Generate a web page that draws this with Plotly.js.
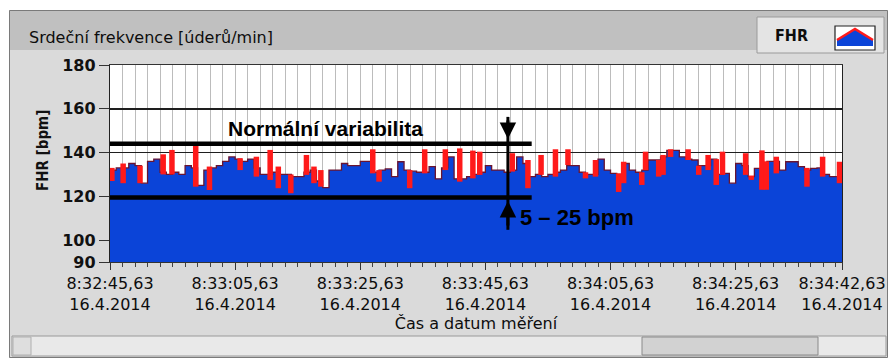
<!DOCTYPE html>
<html><head><meta charset="utf-8">
<script src="https://cdn.plot.ly/plotly-3.0.1.min.js"></script>
<style>html,body{margin:0;padding:0;background:#fff}#chart{width:888px;height:358px}</style>
</head><body><div id="chart"></div>
<script>
// ---- data (seconds from 8:32:45,63) ----
const seconds = [0,1,2,3,4,5,6,7,8,9,10,11,12,13,14,15,16,17,18,19,20,21,22,23,24,25,26,27,28,29,30,31,32,33,34,35,36,37,38,39,40,41,42,43,44,45,46,47,48,49,50,51,52,53,54,55,56,57,58,59,60,61,62,63,64,65,66,67,68,69,70,71,72,73,74,75,76,77,78,79,80,81,82,83,84,85,86,87,88,89,90,91,92,93,94,95,96,97,98,99,100,101,102,103,104,105,106,107,108,109,110,111,112,113,114,115,116,117];
const fhrBase = [132,133,133,135,134,126,136,137,131,130,131,130,134,133,125,132,133,134,136,138,137,136,137,133,130,130,131,130,130,129,129,131,132,127,124,132,132,135,134,134,136,136,131,132,132.5,129,135.8,132,131.5,131,131,133.6,128,133,138,128,128,129,130,131,134,132,132,131,132,138,135,129,130,129,130,131,132,134,134,131,130,130,137,132,130.5,130,135,132,131,132,136.6,136.6,138,141,141,138,137,136.6,134,134,137,130,130.5,126,135,134,129,132.8,131,136,136,132,135.8,135.8,133.6,132,132.8,133,130,129,129,128];
// short beat-to-beat excursions (red)
const spikeSec  = [0.3,2.1,4.8,8.5,9.9,13.7,15.9,20.8,23.4,25.6,26.9,28.9,31.4,32.6,33.7,42.0,43.0,47.9,50.3,53.6,55.9,58.0,59.1,64.3,66.8,68.9,71.2,73.2,76.0,77.6,81.3,82.1,85.0,85.6,87.7,88.4,89.6,92.4,94.1,95.6,96.9,97.9,101.6,102.5,104.2,104.9,106.5,111.4,113.9,116.6];
const spikeLow  = [127,126,126,130,130,124.4,122.9,132,129,127.5,123.7,121.4,129.8,126,124.4,130.5,126.7,123.7,130.5,132,126.7,128.2,129.8,131.3,123.7,129.8,129,134.3,128.2,129,122,126,125.2,132,129,129.8,138,136.6,129.8,132,125.2,129.8,129.8,127.5,123,123,130.5,124.4,129,126];
const spikeHigh = [133,135,134,139.2,141.2,143,133.6,137.4,138.1,141.2,133.6,130,138.9,133.6,132,141.5,132,132,141.5,141.5,141.9,140.9,140.4,139.7,136.6,138.9,141.5,141.5,131,136.6,130.5,135.8,131,140.4,136.6,138.9,141.5,141.5,134,138.9,137,140.4,139.7,129.5,141,136,138.1,133,138.1,135.8];
// axes
const xTickSeconds = [0,20,40,60,80,100,117];
const xTickTimes = ["8:32:45,63","8:33:05,63","8:33:25,63","8:33:45,63","8:34:05,63","8:34:25,63","8:34:42,63"];
const xTickDate = "16.4.2014";
const yTicks = [90,100,120,140,160,180];
// annotation of the normal variability band
const bandLimits = [119.5, 144];
const bandEndSec = 67.4;
const arrowSec = 63.6;

// ---- traces ----
const sx = [], sy = [];
spikeSec.forEach((t,i)=>{ sx.push(t,t,null); sy.push(spikeLow[i], spikeHigh[i], null); });

const traces = [
  {x: seconds, y: fhrBase, type:'scatter', mode:'lines', name:'FHR',
   line:{shape:'hv', color:'#6a1430', width:1.3}, fill:'tozeroy', fillcolor:'#0b44d8', hoverinfo:'skip'},
  {x: sx, y: sy, type:'scatter', mode:'lines', name:'FHR var',
   line:{color:'#ff1a1a', width:5.5}, hoverinfo:'skip', connectgaps:false}
];

// ---- chrome helpers (pixel -> paper) ----
const L=110, R=842, T=65, B=262;
const px = x => (x-L)/(R-L);
const py = y => (B-y)/(B-T);
function box(x0,y0,x1,y1,fill,line,lw){
  return {type:'rect', xref:'paper', yref:'paper', x0:px(x0), x1:px(x1), y0:py(y1), y1:py(y0),
    fillcolor:fill, line:{color:line||'rgba(0,0,0,0)', width:lw===undefined?1:lw}, layer:'below'};
}
const shapes = [
  box(0,0,888,10,'#ffffff',null,0),
  box(0,0,9,358,'#ffffff',null,0),
  box(9.5,10.5,887.5,357.5,'rgba(0,0,0,0)','#7a7a7a',1),
  box(10,11,887,50,'#c0c0c0',null,0),
  box(757,17,884,53,'#e4e4e4','#9a9a9a',1),
  box(835,26,875,50,'#ffffff','#222222',1.2),
  {type:'path', xref:'paper', yref:'paper', layer:'below', fillcolor:'#0b44d8', line:{width:0},
   path:'M'+px(837)+','+py(46)+' L'+px(837)+','+py(40)+' L'+px(855)+','+py(29)+' L'+px(873)+','+py(40)+' L'+px(873)+','+py(46)+' Z'},
  {type:'path', xref:'paper', yref:'paper', layer:'below', line:{color:'#ff1a1a', width:2.5},
   path:'M'+px(837)+','+py(40)+' L'+px(855)+','+py(29)+' L'+px(873)+','+py(40)},
  box(12,336,886,356,'#e9e9e9','#9a9a9a',1),
  box(13,337,31,355,'#dedede','#b0b0b0',1),
  box(642,337,818,355,'#d2d2d2','#8a8a8a',1),
  // band lines + vertical measure
  {type:'line', xref:'x', yref:'y', x0:0, x1:bandEndSec, y0:bandLimits[1], y1:bandLimits[1], line:{color:'#000', width:4.5}},
  {type:'line', xref:'x', yref:'y', x0:0, x1:bandEndSec, y0:bandLimits[0], y1:bandLimits[0], line:{color:'#000', width:4.5}},
  {type:'line', xref:'x', yref:'y', x0:arrowSec, x1:arrowSec, y0:104.7, y1:156.3, line:{color:'#000', width:3}}
];

const annotations = [
  {xref:'paper', yref:'paper', x:px(27), y:py(38), xanchor:'left', yanchor:'middle', showarrow:false,
   text:'Srdeční frekvence [úderů/min]', font:{family:'DejaVu Sans', size:16, color:'#0d0d0d'}},
  {xref:'paper', yref:'paper', x:px(791), y:py(36), xanchor:'center', yanchor:'middle', showarrow:false,
   text:'FHR', font:{family:'DejaVu Sans Condensed', size:16, color:'#0d0d0d', weight:'bold'}},
  {xref:'paper', yref:'paper', x:px(43), y:py(151), xanchor:'center', yanchor:'middle', showarrow:false, textangle:-90,
   text:'FHR [bpm]', font:{family:'DejaVu Sans Condensed', size:15, color:'#111', weight:'bold'}},
  {xref:'x', yref:'paper', x:(bandEndSec/2+0.7), y:py(128), xanchor:'center', yanchor:'middle', showarrow:false,
   text:'Normální variabilita', font:{family:'Liberation Sans', size:21, color:'#000', weight:'bold'}},
  {xref:'x', yref:'paper', x:arrowSec+1.6, y:py(217), xanchor:'left', yanchor:'middle', showarrow:false,
   text:'5 – 25 bpm', font:{family:'Liberation Sans', size:22, color:'#000', weight:'bold'}},
  {xref:'x', yref:'y', x:arrowSec, y:146.2, ax:0, ay:-20, showarrow:true, arrowhead:2, arrowsize:1.1, arrowwidth:3, arrowcolor:'#000', text:''},
  {xref:'x', yref:'y', x:arrowSec, y:117.9, ax:0, ay:26, showarrow:true, arrowhead:2, arrowsize:1.1, arrowwidth:3, arrowcolor:'#000', text:''}
];

const layout = {
  width:888, height:358, margin:{l:L, r:888-R, t:T, b:358-B, pad:0},
  paper_bgcolor:'#dadada', plot_bgcolor:'#ffffff', showlegend:false,
  font:{family:'DejaVu Sans', color:'#111'},
  xaxis:{range:[0,117], tickmode:'array', tickvals:xTickSeconds,
    ticktext:xTickTimes.map(t=>t+'<br>'+xTickDate),
    tickfont:{family:'DejaVu Sans', size:16, color:'#0d0d0d'},
    ticks:'outside', ticklen:7, tickcolor:'#333', tickwidth:1,
    showgrid:true, gridcolor:'#bcbcbc', gridwidth:1,
    minor:{dtick:2, tick0:0, showgrid:true, gridcolor:'#bcbcbc', gridwidth:1, ticks:'outside', ticklen:4, tickcolor:'#444'},
    showline:true, linecolor:'#333', linewidth:1, mirror:true, zeroline:false,
    title:{text:'Čas a datum měření', font:{family:'DejaVu Sans', size:16, color:'#0d0d0d'}, standoff:2}},
  yaxis:{range:[90,180], tickmode:'array', tickvals:yTicks,
    tickfont:{family:'DejaVu Sans', size:16, color:'#111', weight:'bold'},
    ticks:'outside', ticklen:10, tickcolor:'#333',
    showgrid:true, gridcolor:'#1e1e1e', gridwidth:1.5,
    showline:true, linecolor:'#222', linewidth:1.2, mirror:true, zeroline:false},
  shapes:shapes, annotations:annotations
};
Plotly.newPlot('chart', traces, layout, {staticPlot:true, displayModeBar:false});
</script></body></html>
